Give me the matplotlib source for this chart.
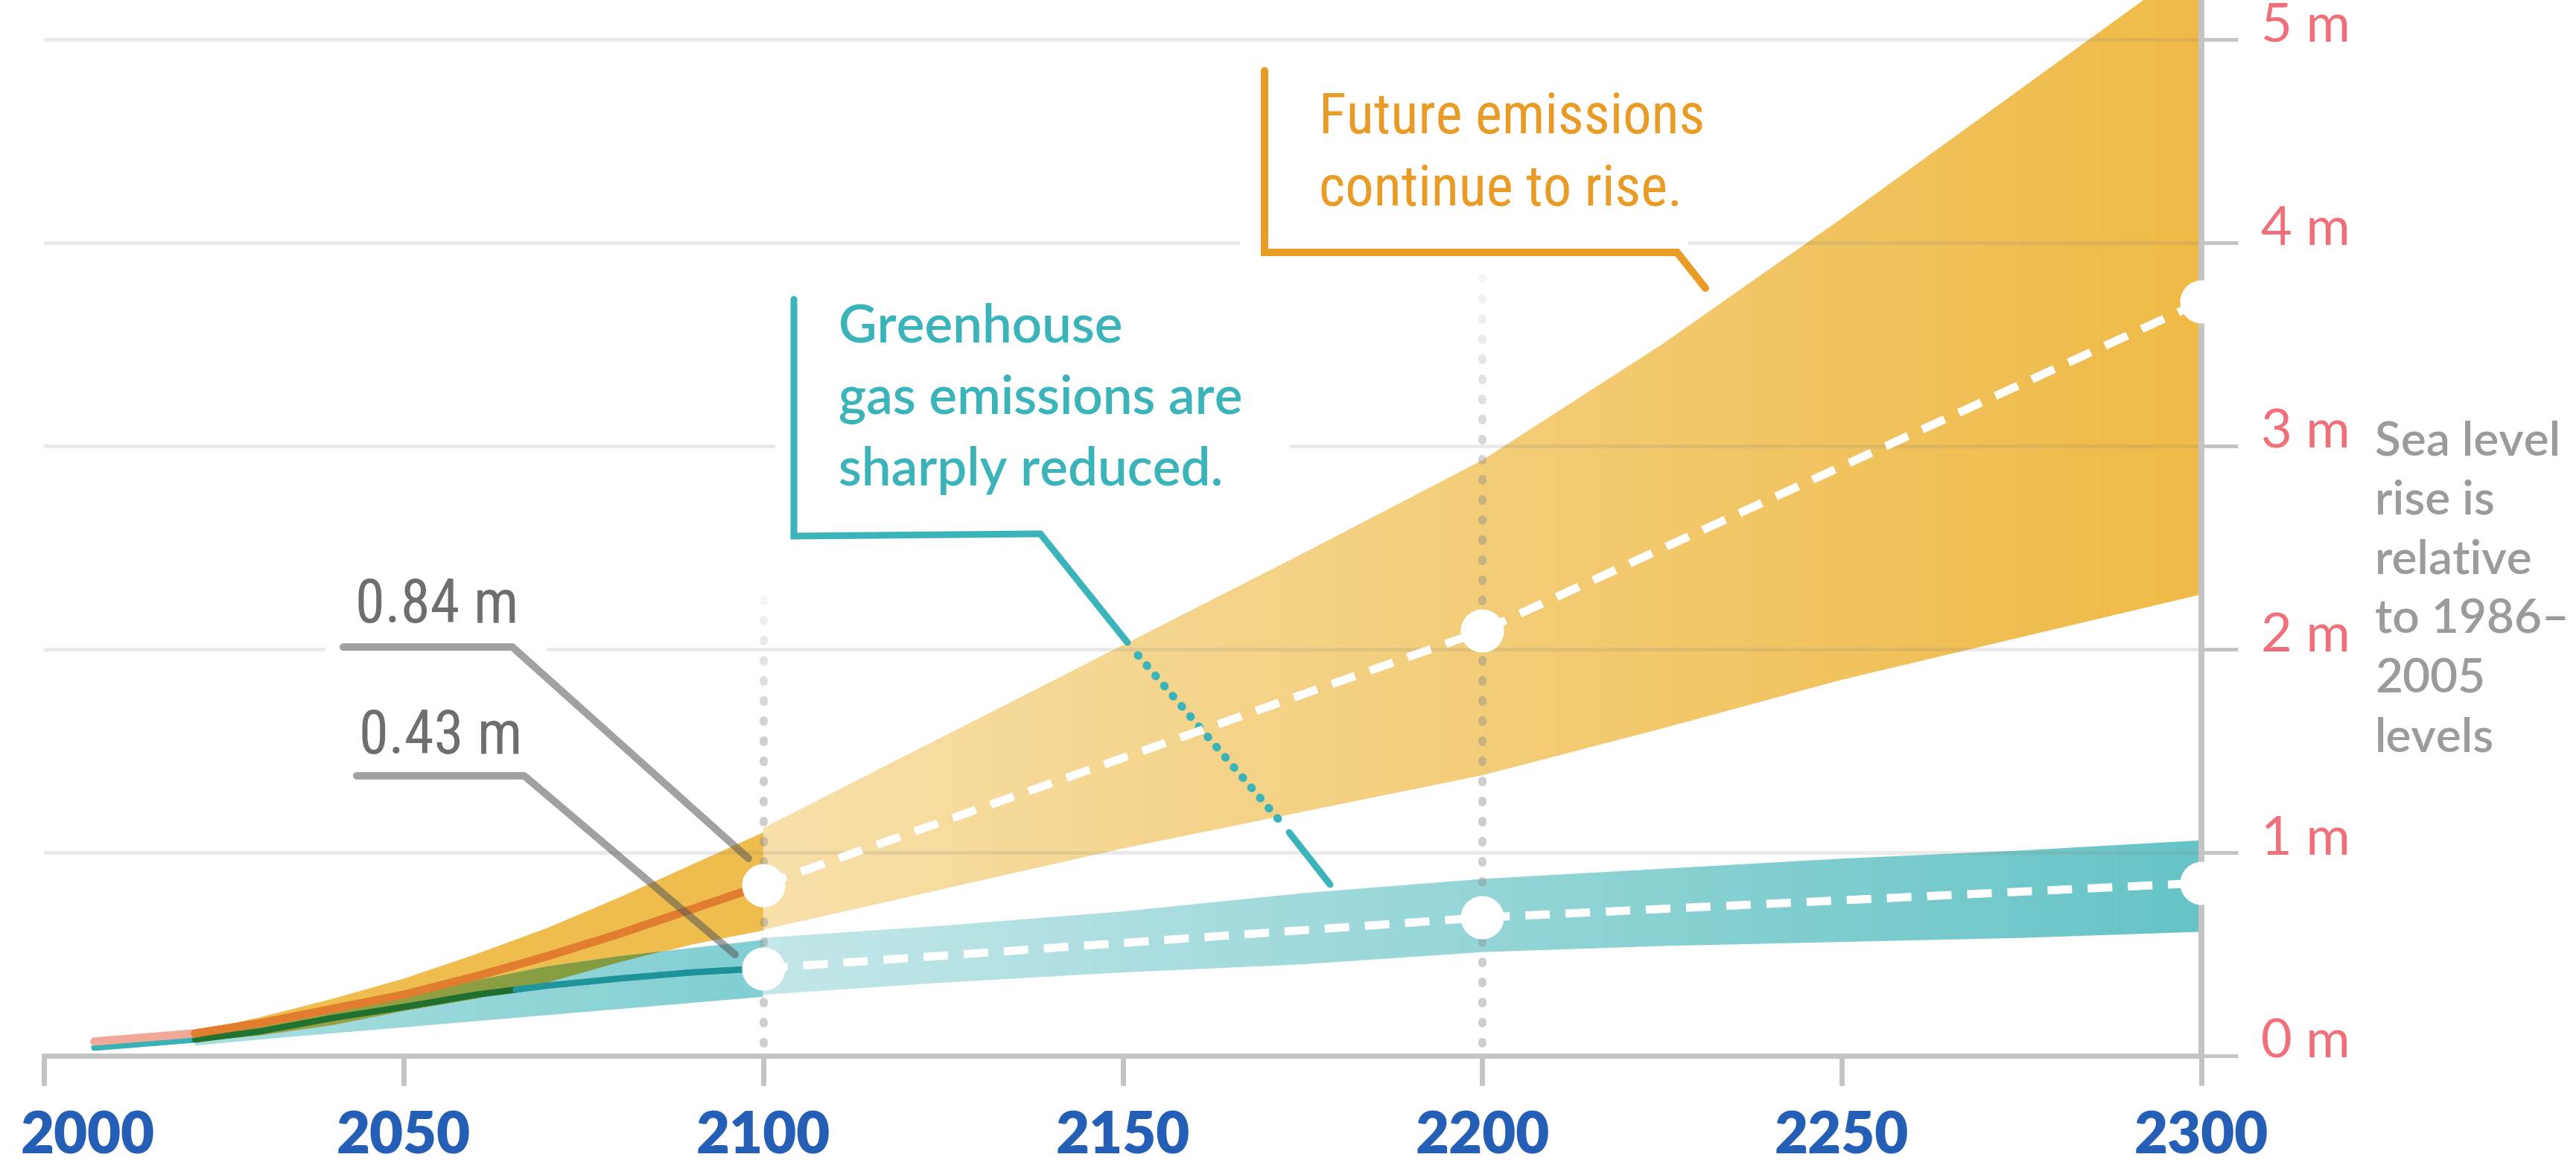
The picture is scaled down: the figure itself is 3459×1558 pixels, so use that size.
import numpy as np
import matplotlib
matplotlib.use("Agg")
import matplotlib.pyplot as plt
import matplotlib.colors as mcolors
from matplotlib.collections import LineCollection
from matplotlib.patches import Rectangle
from matplotlib.path import Path

plt.rcParams['lines.scale_dashes'] = False

# ---------------------------------------------------------------- data
# medians (m) up to 2100
years_med = [2007, 2014, 2021, 2030, 2040, 2050, 2060, 2070, 2080, 2090, 2100]
high_median = [0.07, 0.09, 0.11, 0.16, 0.23, 0.30, 0.39, 0.49, 0.60, 0.72, 0.84]
low_median = [0.04, 0.06, 0.08, 0.12, 0.185, 0.24, 0.30, 0.345, 0.38, 0.41, 0.43]

# likely ranges 2021-2100
years_near = [2021, 2030, 2040, 2050, 2060, 2070, 2080, 2090, 2100]
high_lower_near = [0.07, 0.10, 0.15, 0.22, 0.28, 0.36, 0.46, 0.55, 0.62]
high_upper_near = [0.12, 0.19, 0.28, 0.38, 0.50, 0.63, 0.78, 0.94, 1.10]
low_lower_near = [0.05, 0.08, 0.11, 0.14, 0.17, 0.20, 0.23, 0.26, 0.29]
low_upper_near = [0.09, 0.14, 0.21, 0.29, 0.37, 0.44, 0.49, 0.53, 0.57]

# likely ranges 2100-2300
years_far = [2100, 2125, 2150, 2175, 2200, 2225, 2250, 2275, 2300]
high_lower_far = [0.62, 0.82, 1.02, 1.20, 1.38, 1.61, 1.85, 2.06, 2.27]
high_upper_far = [1.12, 1.57, 2.02, 2.47, 2.93, 3.50, 4.12, 4.76, 5.40]
low_lower_far = [0.30, 0.36, 0.41, 0.45, 0.51, 0.54, 0.56, 0.58, 0.61]
low_upper_far = [0.58, 0.64, 0.71, 0.80, 0.87, 0.92, 0.97, 1.01, 1.06]

# highlighted points
years_marker = [2100, 2200, 2300]
high_marker = [0.84, 2.09, 3.71]
low_marker = [0.43, 0.68, 0.85]

high_label = "0.84 m"
low_label = "0.43 m"
x_ticks = [2000, 2050, 2100, 2150, 2200, 2250, 2300]
y_ticks = [0, 1, 2, 3, 4, 5]
y_tick_labels = ["0 m", "1 m", "2 m", "3 m", "4 m", "5 m"]
note_lines = ["Sea level", "rise is", "relative", "to 1986\u2013", "2005", "levels"]
high_text = ["Future emissions", "continue to rise."]
low_text = ["Greenhouse", "gas emissions are", "sharply reduced."]

# ---------------------------------------------------------------- layout
FIG_W, FIG_H, DPI = 3459, 1558, 100
X0_PX, X1_PX = 59, 2956        # pixel columns of 2000 and 2300
Y0_PX, PX_PER_M = 1418, 273.0  # pixel row of 0 m, pixels per metre
PT = 72.0 / DPI                # points per pixel

NARROW = ['Roboto Condensed', 'Liberation Sans Narrow',
          'DejaVu Sans Condensed', 'Lato']


def xd(px):
    return 2000 + (px - X0_PX) * 300.0 / (X1_PX - X0_PX)


def yd(py):
    return (Y0_PX - py) / PX_PER_M


YELLOW = '#EFBD4E'
YEL_FAR0, YEL_FAR1 = '#F7E0AA', '#EFBA46'
TEAL_NEAR0, TEAL_NEAR1 = '#AADEE0', '#80CFD2'
TEAL_FAR0, TEAL_FAR1 = '#C4E7E9', '#66C4C6'
PINK = '#F0A898'
TEAL_LINE = '#38B2B7'
GRID = (0.5, 0.5, 0.5, 0.16)
AXIS = '#C4C4C4'
BLUE = '#245EB5'
RED = '#EF6F7A'
GREY_NOTE = '#9B9B9B'
ORANGE = '#E89C25'
TEAL_TXT = '#3BB4B9'
GREY_TXT = '#6E6E6E'

fig = plt.figure(figsize=(FIG_W / DPI, FIG_H / DPI), dpi=DPI)
ax = fig.add_axes([X0_PX / FIG_W, (FIG_H - Y0_PX) / FIG_H,
                   (X1_PX - X0_PX) / FIG_W, Y0_PX / FIG_H])


def rgb(c):
    return np.array(mcolors.to_rgb(c))


def gradient_band(x, lo, hi, c0, c1, z, where=None):
    x = np.asarray(x, float)
    lo = np.asarray(lo, float)
    hi = np.asarray(hi, float)
    poly = ax.fill_between(x, lo, hi, where=where, interpolate=True,
                           facecolor='none', edgecolor='none', zorder=z)
    paths = poly.get_paths()
    clip = Path.make_compound_path(*paths)
    t = np.linspace(0, 1, 400)[:, None]
    img = ((1 - t) * rgb(c0) + t * rgb(c1))[None, :, :]
    im = ax.imshow(img, extent=[x[0], x[-1], 0, max(hi.max(), 6)],
                   aspect='auto', origin='lower', zorder=z,
                   interpolation='bilinear')
    im.set_clip_path(clip, transform=ax.transData)
    return im


# ---------------------------------------------------------------- bands
ax.fill_between(years_near, high_lower_near, high_upper_near,
                facecolor=YELLOW, edgecolor=YELLOW, lw=0.5, zorder=1)
gradient_band(years_near, low_lower_near, low_upper_near,
              TEAL_NEAR0, TEAL_NEAR1, 1.1)
ov_lo = np.maximum(high_lower_near, low_lower_near)
ov_hi = np.minimum(high_upper_near, low_upper_near)
gradient_band(years_near, ov_lo, ov_hi,
              tuple(rgb(YELLOW) * rgb(TEAL_NEAR0)),
              tuple(rgb(YELLOW) * rgb(TEAL_NEAR1)), 1.2,
              where=ov_hi > ov_lo)
gradient_band(years_far, high_lower_far, high_upper_far, YEL_FAR0, YEL_FAR1, 1)
gradient_band(years_far, low_lower_far, low_upper_far, TEAL_FAR0, TEAL_FAR1, 1)

# ---------------------------------------------------------------- grid
for v in y_ticks[1:]:
    ax.axhline(v, color=GRID, lw=5 * PT, zorder=2)
for (pa, pb, v) in [(437, 734, 2), (1041, 1732, 3), (1665, 2267, 4)]:
    ax.add_patch(Rectangle((xd(pa), v - 0.04), xd(pb) - xd(pa), 0.08,
                           facecolor='white', edgecolor='none', zorder=2.2))


# ---------------------------------------------------------------- dotted verticals
def dotted_vline(x, ytop, fade):
    step = 27 / PX_PER_M
    ys = np.arange(0.065, ytop, step)
    segs, cols = [], []
    for y in ys:
        a = 0.42
        if y > ytop - fade:
            a = 0.04 + 0.38 * (ytop - y) / fade
        segs.append([(x, y - 1.2 / PX_PER_M), (x, y + 1.2 / PX_PER_M)])
        cols.append((0.55, 0.55, 0.55, a))
    ax.add_collection(LineCollection(segs, colors=cols, linewidths=11 * PT,
                                     capstyle='round', zorder=2.4))


dotted_vline(years_marker[0], 2.33, 0.75)
dotted_vline(years_marker[1], 3.92, 1.1)


# ---------------------------------------------------------------- median lines (multiply-coloured)
def in_band(x, v, xs, lo, hi):
    if x < xs[0] or x > xs[-1]:
        return False
    return np.interp(x, xs, lo) <= v <= np.interp(x, xs, hi)


def teal_at(x):
    t = np.clip((x - years_near[0]) / (years_near[-1] - years_near[0]), 0, 1)
    return (1 - t) * rgb(TEAL_NEAR0) + t * rgb(TEAL_NEAR1)


def median_line(xs, ys, base, lw, z):
    segs, cols = [], []
    n = 16
    for i in range(len(xs) - 1):
        for k in range(n):
            xa = xs[i] + (xs[i + 1] - xs[i]) * k / n
            xb = xs[i] + (xs[i + 1] - xs[i]) * (k + 1) / n
            ya = ys[i] + (ys[i + 1] - ys[i]) * k / n
            yb = ys[i] + (ys[i + 1] - ys[i]) * (k + 1) / n
            xm, ym = (xa + xb) / 2, (ya + yb) / 2
            c = rgb(base)
            if in_band(xm, ym, years_near, high_lower_near, high_upper_near):
                c = c * rgb(YELLOW)
            if in_band(xm, ym, years_near, low_lower_near, low_upper_near):
                c = c * teal_at(xm)
            segs.append([(xa, ya), (xb, yb)])
            cols.append(tuple(c))
    ax.add_collection(LineCollection(segs, colors=cols, linewidths=lw,
                                     capstyle='round', zorder=z))


median_line(years_med, low_median, TEAL_LINE, 8.5 * PT, 3)
median_line(years_med, high_median, PINK, 11 * PT, 3.1)

# ---------------------------------------------------------------- dashed projections + dots
for ys in (high_marker, low_marker):
    ax.plot(years_marker, ys, color='white', lw=11 * PT,
            dashes=(33 * PT, 21 * PT), dash_capstyle='butt', zorder=4.5)
    ax.plot(years_marker, ys, 'o', color='white', ms=58 * PT,
            mec='none', zorder=6, clip_on=False)

# ---------------------------------------------------------------- leader lines
lead_kw = dict(color='#555555', alpha=0.55, lw=10 * PT,
               solid_capstyle='round', solid_joinstyle='round', zorder=4)
ax.plot([xd(461), xd(688), xd(1005)], [yd(869), yd(869), yd(1153)], **lead_kw)
ax.plot([xd(479), xd(704), xd(987)], [yd(1042), yd(1042), yd(1282)], **lead_kw)

# teal callout bracket
tkw = dict(color=TEAL_TXT, lw=9 * PT, solid_capstyle='round',
           solid_joinstyle='miter', zorder=4, clip_on=False)
ax.plot([xd(1066), xd(1066), xd(1397), xd(1514)],
        [yd(402), yd(720), yd(717), yd(863)], **tkw)
ax.plot([xd(1528), xd(1718)], [yd(880), yd(1102)], color=TEAL_TXT,
        lw=11 * PT, dashes=(1 * PT, 17 * PT), dash_capstyle='round', zorder=4)
ax.plot([xd(1731), xd(1786)], [yd(1118), yd(1188)], **tkw)

# orange callout bracket
okw = dict(color=ORANGE, lw=10 * PT, solid_capstyle='round',
           solid_joinstyle='miter', zorder=4, clip_on=False)
ax.plot([xd(1698), xd(1698), xd(2252), xd(2290)],
        [yd(95), yd(339), yd(339), yd(387)], **okw)

# ---------------------------------------------------------------- axes
ax.set_xlim(2000, 2300)
ax.set_ylim(0, Y0_PX / PX_PER_M)
for s in ('top', 'left'):
    ax.spines[s].set_visible(False)
ax.spines['bottom'].set_color(AXIS)
ax.spines['bottom'].set_linewidth(7 * PT)
ax.spines['right'].set_color(AXIS)
ax.spines['right'].set_linewidth(8 * PT)
ax.spines['bottom'].set_zorder(5)
ax.spines['right'].set_zorder(5)
ax.set_xticks(x_ticks)
ax.set_yticks(y_ticks)
ax.yaxis.tick_right()
ax.tick_params(axis='x', direction='out', length=40 * PT, width=7 * PT,
               color=AXIS, labelbottom=False)
ax.tick_params(axis='y', direction='out', length=49 * PT, width=5 * PT,
               color=AXIS, labelright=False, labelleft=False)

for xt in x_ticks:
    xpos = xd(118) if xt == x_ticks[0] else xt
    ax.text(xpos, yd(1550), str(xt), ha='center', va='baseline',
            fontsize=56, fontfamily='Lato', fontweight='heavy', color=BLUE)
for yt, lab in zip(y_ticks, y_tick_labels):
    ax.text(xd(3036), yt - 0.01, lab, ha='left', va='baseline',
            fontsize=52, fontfamily='Lato', color=RED)
for i, line in enumerate(note_lines):
    ax.text(xd(3189), yd(611 + 79.8 * i), line, ha='left', va='baseline',
            fontsize=46, fontfamily='Lato', fontweight='semibold',
            color=GREY_NOTE)

for i, line in enumerate(high_text):
    ax.text(xd(1771), yd(179 + 97 * i), line, ha='left', va='baseline',
            fontsize=55, fontfamily=NARROW, fontweight='normal', color=ORANGE,
            zorder=5)
for i, line in enumerate(low_text):
    ax.text(xd(1126), yd(460 + 96 * i), line, ha='left', va='baseline',
            fontsize=51, fontfamily='Lato', fontweight='semibold',
            color=TEAL_TXT, zorder=5)

ax.text(xd(477), yd(836), high_label, ha='left', va='baseline', fontsize=58,
        fontfamily=NARROW, color=GREY_TXT, zorder=5)
ax.text(xd(482), yd(1012), low_label, ha='left', va='baseline', fontsize=58,
        fontfamily=NARROW, color=GREY_TXT, zorder=5)

fig.savefig('out.png', dpi=DPI, facecolor='white')
